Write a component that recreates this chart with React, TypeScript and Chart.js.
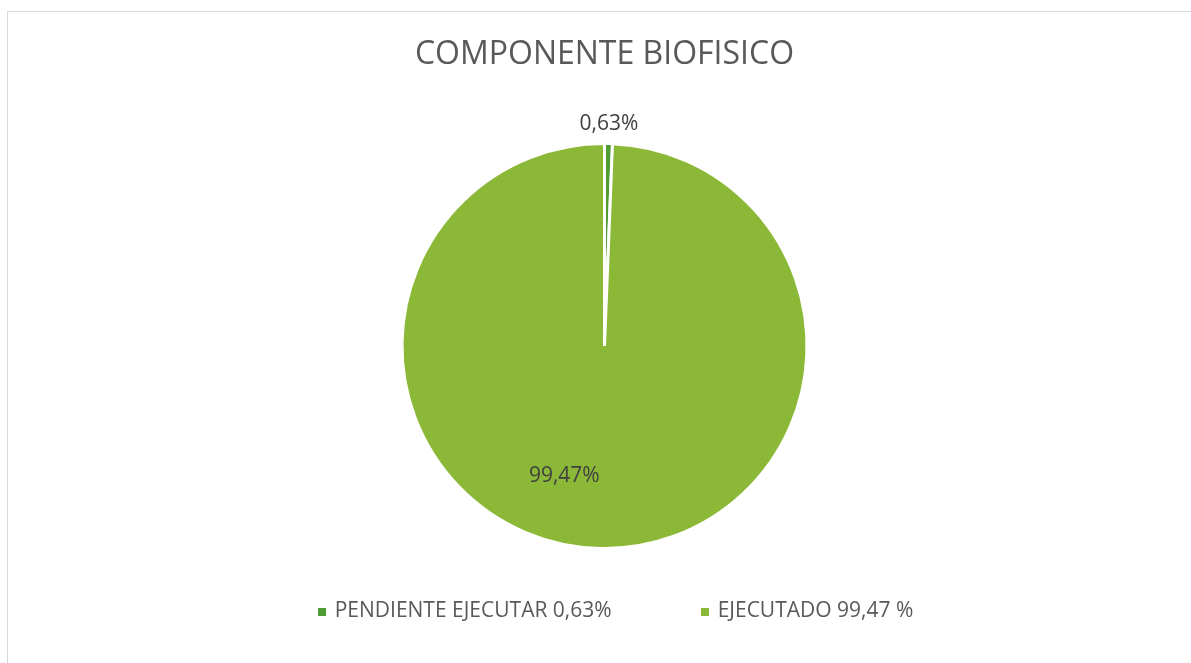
import React, { useEffect, useRef } from "react";
import { Chart, registerables } from "chart.js";

Chart.register(...registerables);

const categories = ["PENDIENTE EJECUTAR 0,63%", "EJECUTADO 99,47 %"];
const values = [0.63, 99.47];
const colors = ["#4F9C34", "#8CB838"];
const titleText = "COMPONENTE BIOFISICO";

const FONT = "'Open Sans', sans-serif";

const sliceLabelPlugin = {
  id: "sliceLabels",
  afterDatasetsDraw(chart: any) {
    const ctx = chart.ctx;
    const meta = chart.getDatasetMeta(0);
    const total = values.reduce((a, b) => a + b, 0);
    ctx.save();
    ctx.font = `21px ${FONT}`;
    ctx.fillStyle = "#404040";
    ctx.textAlign = "center";
    ctx.textBaseline = "middle";
    meta.data.forEach((arc: any, i: number) => {
      const { x, y, startAngle, endAngle, outerRadius } = arc.getProps(
        ["x", "y", "startAngle", "endAngle", "outerRadius"],
        true
      );
      const share = values[i] / total;
      let mid = (startAngle + endAngle) / 2;
      let d: number;
      if (share < 0.05) {
        d = outerRadius + 20;
      } else {
        d = outerRadius * 0.674;
        mid += (16 * Math.PI) / 180;
      }
      const text = values[i].toFixed(2).replace(".", ",") + "%";
      ctx.fillText(text, x + Math.cos(mid) * d, y + Math.sin(mid) * d);
    });
    ctx.restore();
  },
};

const bottomLegendPlugin = {
  id: "bottomLegend",
  afterDraw(chart: any) {
    const ctx = chart.ctx;
    const bg = chart.data.datasets[0].backgroundColor as string[];
    ctx.save();
    ctx.font = `21px ${FONT}`;
    ctx.textBaseline = "middle";
    ctx.textAlign = "left";
    const box = 8;
    const gapText = 9;
    const gapItem = 89;
    const widths = categories.map((c) => ctx.measureText(c).width);
    const total =
      widths.reduce((s, w) => s + box + gapText + w, 0) + gapItem * (categories.length - 1);
    const area = chart.chartArea;
    const cx = (area.left + area.right) / 2 + 11;
    const textY = area.bottom + 61.5;
    let x = cx - total / 2;
    categories.forEach((c, i) => {
      ctx.fillStyle = bg[i];
      ctx.fillRect(Math.round(x), Math.round(textY - 3.5), box, box);
      x += box + gapText;
      ctx.fillStyle = "#595959";
      ctx.fillText(c, x, textY);
      x += widths[i] + gapItem;
    });
    ctx.restore();
  },
};

export default function App() {
  const canvasRef = useRef<HTMLCanvasElement | null>(null);

  useEffect(() => {
    if (!canvasRef.current) return;
    const chart = new Chart(canvasRef.current, {
      type: "pie",
      data: {
        labels: categories,
        datasets: [
          {
            data: values,
            backgroundColor: colors,
            borderColor: "#ffffff",
            borderWidth: 3,
            hoverOffset: 0,
            offset: 0,
          },
        ],
      },
      options: {
        responsive: false,
        animation: false,
        devicePixelRatio: 1,
        layout: { padding: { left: 18, right: 0, top: 0, bottom: 113 } },
        plugins: {
          legend: { display: false },
          tooltip: { enabled: false },
          title: {
            display: true,
            text: titleText,
            color: "#595959",
            font: { family: FONT, size: 32, weight: "normal" as any, lineHeight: 1.2 },
            padding: { top: 35.4, bottom: 68.2 },
          },
        },
      },
      plugins: [sliceLabelPlugin, bottomLegendPlugin],
    });
    return () => chart.destroy();
  }, []);

  return (
    <div>
      <div
        style={{
          position: "fixed",
          left: 7,
          top: 11,
          width: 1400,
          height: 900,
          borderLeft: "1px solid #d9d9d9",
          borderTop: "1px solid #d9d9d9",
          boxSizing: "border-box",
        }}
      />
      <canvas
        ref={canvasRef}
        width={1191}
        height={663}
        style={{ position: "fixed", left: 0, top: 0, width: 1191, height: 663, display: "block" }}
      />
    </div>
  );
}
